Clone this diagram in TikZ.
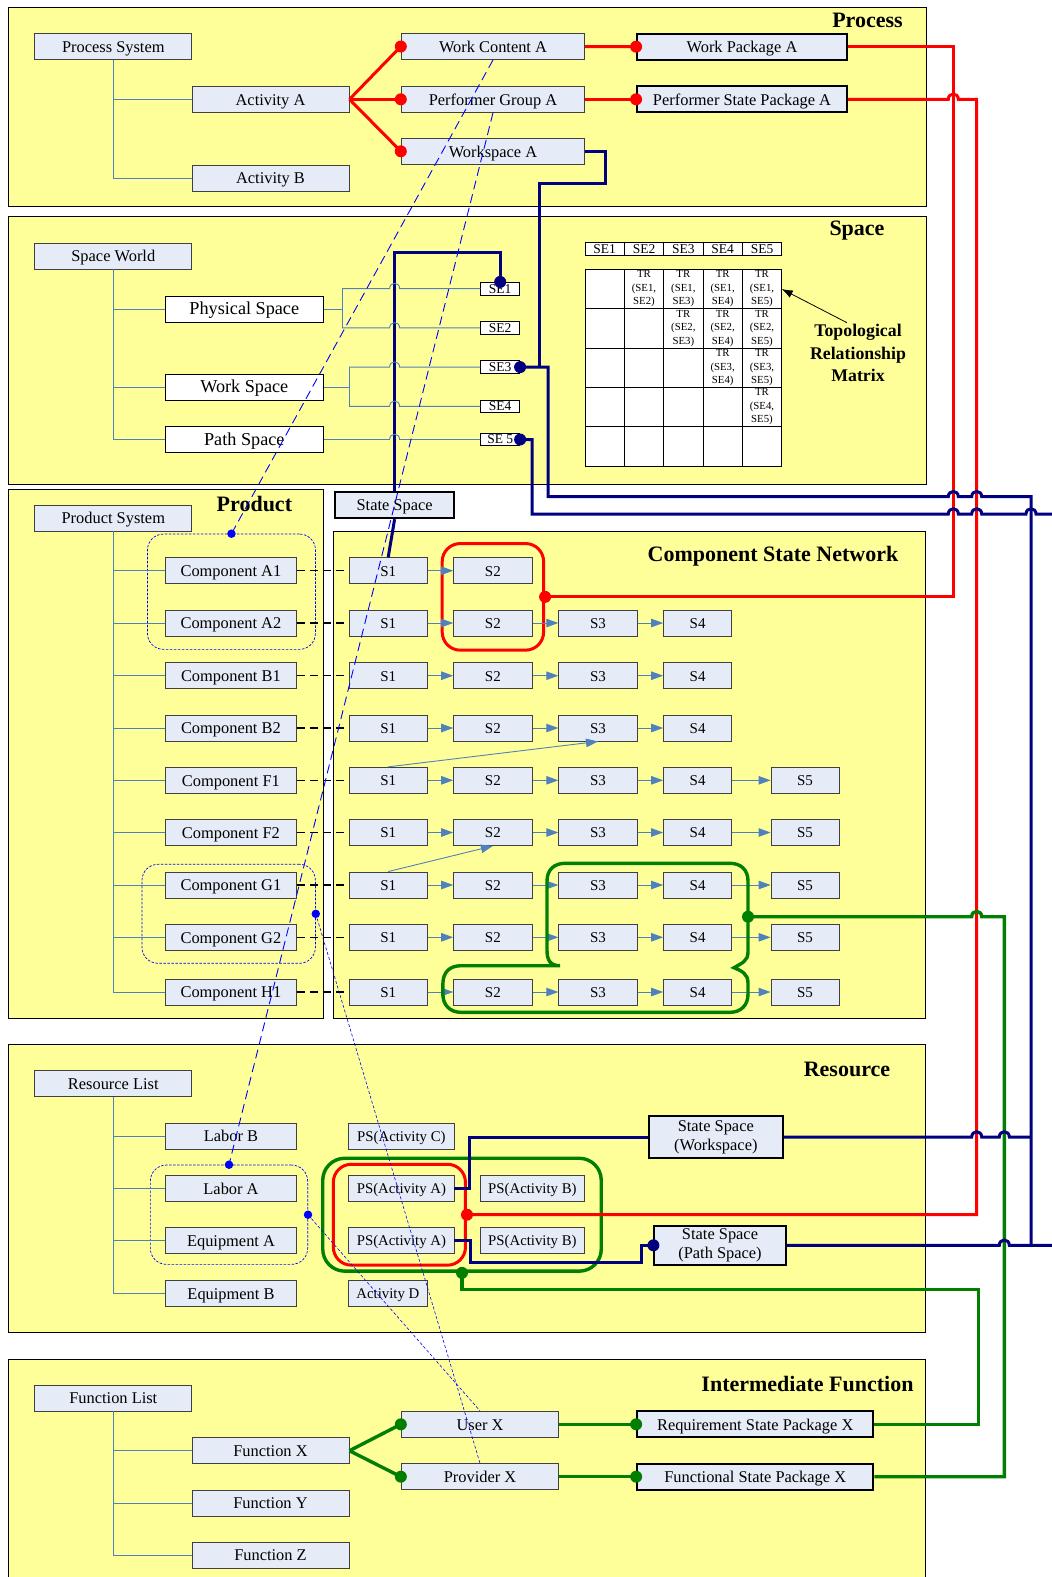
\documentclass[tikz,border=0pt]{standalone}
\usepackage{fontspec}
\setmainfont{Liberation Serif}
\usetikzlibrary{arrows.meta,positioning,fit,calc}
\definecolor{paneyellow}{HTML}{FFFF99}
\definecolor{boxblue}{HTML}{E5ECF7}
\definecolor{treeblue}{HTML}{4F81BD}
\definecolor{navyline}{HTML}{000080}
\definecolor{redline}{HTML}{FF0000}
\definecolor{greenline}{HTML}{007F00}
\definecolor{dashblue}{HTML}{0000FF}
\newcommand{\hopover}[2]{-- ({#1-5},#2) .. controls ({#1-5},{#2-7}) and ({#1+5},{#2-7}) .. ({#1+5},#2)}
\tikzset{
  panel/.style={draw=black, fill=paneyellow, line width=0.8pt},
  paneltitle/.style={font=\fontsize{22}{24}\selectfont\bfseries, inner sep=0pt},
  item/.style={rectangle, draw=black!75, fill=boxblue, line width=0.9pt, inner sep=0pt, minimum width=157, minimum height=26, font=\fontsize{16.4}{19}\selectfont, text height=11.8pt, text depth=0pt},
  spacebox/.style={item, fill=white, draw=black, minimum width=158, font=\fontsize{18.2}{20}\selectfont, text height=11pt},
  pkg/.style={item, draw=black, line width=1.8pt},
  pkgtwo/.style={rectangle, draw=black, fill=boxblue, line width=1.8pt, inner sep=0pt, align=center, font=\fontsize{16.4}{19}\selectfont},
  sbox/.style={item, font=\fontsize{15}{17}\selectfont, text height=10.6pt},
  psbox/.style={item, font=\fontsize{14.8}{17}\selectfont, text height=10pt},
  sebox/.style={rectangle, draw=black, fill=white, line width=0.8pt, inner sep=0pt, minimum width=39, minimum height=12.6, font=\fontsize{13.5}{14}\selectfont},
  mhead/.style={sebox, minimum width=39.34},
  mcell/.style={align=center, inner sep=0pt, font=\fontsize{10.8}{13.6}\selectfont},
  tree/.style={draw=treeblue, line width=0.9pt},
  flow/.style={draw=treeblue, line width=0.9pt, -{Triangle[length=12pt,width=8.5pt]}},
  compdash/.style={draw=black, line width=1.2pt, dash pattern=on 8pt off 5pt},
  redlink/.style={draw=redline, line width=3pt},
  greenlink/.style={draw=greenline, line width=3.4pt},
  navylink/.style={draw=navyline, line width=3pt},
  reddot/.style={circle, fill=redline, inner sep=0pt, minimum size=12},
  greendot/.style={circle, fill=greenline, inner sep=0pt, minimum size=12},
  navydot/.style={circle, fill=navyline, inner sep=0pt, minimum size=12},
  bluedot/.style={circle, fill=dashblue, inner sep=0pt, minimum size=8.5},
  bluegroup/.style={rectangle, draw=dashblue, line width=0.7pt, dash pattern=on 2.5pt off 1.5pt, rounded corners=16pt},
  redgroup/.style={rectangle, draw=redline, line width=3pt, rounded corners=18pt, inner sep=0pt},
  greengroup/.style={rectangle, draw=greenline, line width=3.4pt, rounded corners=22pt, inner sep=0pt},
  longdash/.style={draw=dashblue, line width=0.9pt, dash pattern=on 9pt off 5pt},
  finedash/.style={draw=dashblue, line width=0.6pt, dash pattern=on 3pt off 2pt}
}

\begin{document}
\begin{tikzpicture}[x=1pt, y=-1pt]
  \useasboundingbox (0,0) rectangle (1052,1577);
  \clip (0,0) rectangle (1052,1577);
  \fill[white] (0,0) rectangle (1052,1577);

  % panels
  \draw[panel] (8,7) rectangle (926,206);
  \draw[panel] (8,216.7) rectangle (926,484);
  \draw[panel] (8,489.3) rectangle (323.2,1018.3);
  \draw[panel] (333.2,531.7) rectangle (925.8,1018.3);
  \draw[panel] (8.7,1044.3) rectangle (925.7,1332.7);
  \draw[panel] (8.7,1359) rectangle (925.7,1600);
  \node[paneltitle] (tproc) at (867.5,20) {Process};
  \node[paneltitle] (tspace) at (857,231) {Space};
  \node[paneltitle] (tprod) at (254.4,504) {Product};
  \node[paneltitle] (tcsn) at (773,556) {Component State Network};
  \node[paneltitle] (tres) at (847,1069) {Resource};
  \node[paneltitle] (tfun) at (807.5,1384) {Intermediate Function};

  % process
  \node[item] (ps) at (113.3,46.7) {Process System};
  \node[item] (acta) at (270.5,99.3) {Activity A};
  \node[item] (actb) at (270.5,178) {Activity B};
  \node[item, minimum width=183.5] (wca) at (493,46.5) {Work Content A};
  \node[item, minimum width=183.5] (pga) at (493,99.3) {Performer Group A};
  \node[item, minimum width=183.5] (wsa) at (493,151.3) {Workspace A};
  \node[pkg, minimum width=210] (wpa) at (742,46.7) {Work Package A};
  \node[pkg, minimum width=210] (pspa) at (742,99.3) {Performer State Package A};

  % space
  \node[item] (sw) at (113.3,256) {Space World};
  \node[spacebox] (phys) at (244.3,309) {Physical Space};
  \node[spacebox] (wsp) at (244.3,387) {Work Space};
  \node[spacebox] (path) at (244.3,439.5) {Path Space};
  \node[sebox] (se1) at (500.2,288.6) {SE1};
  \node[sebox] (se2) at (500.2,327.9) {SE2};
  \node[sebox] (se3) at (500.2,367.1) {SE3};
  \node[sebox] (se4) at (500.2,406.3) {SE4};
  \node[sebox] (se5) at (500.2,439.5) {SE 5};
  \foreach \n [count=\i from 0] in {1,...,5}
    \node[mhead] (mh\n) at ({604.67+39.34*\i},249) {SE\n};
  \filldraw[fill=white, draw=black, line width=0.8pt] (585,269.3) rectangle (781.7,466);
  \foreach \i in {1,...,4} {
    \draw[line width=0.8pt] ({585+39.34*\i},269.3) -- ({585+39.34*\i},466);
    \draw[line width=0.8pt] (585,{269.3+39.34*\i}) -- (781.7,{269.3+39.34*\i});
  }
  \foreach \rw in {1,...,4} {
    \pgfmathtruncatemacro{\cs}{\rw+1}
    \foreach \cl in {\cs,...,5}
      \node[mcell] (tr\rw\cl) at ({585+39.34*(\cl-0.5)},{269.3+39.34*(\rw-0.5)}) {TR\\(SE\rw,\\SE\cl)};
  }
  \node[align=center, font=\fontsize{17.8}{22.5}\selectfont\bfseries] (trm) at (858,353) {Topological\\Relationship\\Matrix};
  \coordinate (trtip) at (781.7,289);
  \draw[line width=0.8pt, -{Latex[length=11pt,width=8pt]}] ($(trm.north)+(-11,2)$) -- (trtip);

  % product and component states
  \node[item] (prs) at (113.3,518) {Product System};
  \node[pkg, minimum width=118.6, minimum height=26.6] (ss) at (394.6,505) {State Space};
  \foreach \lab/\yy/\ns [count=\rw] in {A1/570.7/2, A2/623/4, B1/675.7/4, B2/728/4, F1/780.3/5, F2/832.5/5, G1/885/5, G2/937.3/5, H1/992/5} {
    \node[item, minimum width=131] (c\rw) at (230.9,\yy) {Component \lab};
    \foreach \st in {1,...,\ns} {
      \pgfmathsetmacro{\sx}{{388.2,492.9,598,697.6,805}[\st-1]}
      \pgfmathsetmacro{\sw}{\st>3 ? 68 : 78.5}
      \node[sbox, minimum width=\sw] (s\rw\st) at (\sx,\yy) {S\st};
    }
  }
  \node[bluegroup, minimum width=168, minimum height=115.3] (agrp) at (231.45,591.7) {};
  \node[bluegroup, minimum width=173.4, minimum height=99] (ggrp) at (228.7,913.8) {};

  % resource
  \node[item] (rl) at (113.3,1083.7) {Resource List};
  \node[item, minimum width=131.3] (lb) at (231,1136) {Labor B};
  \node[item, minimum width=131.3] (la) at (231,1188.7) {Labor A};
  \node[item, minimum width=131.3] (ea) at (231,1240.7) {Equipment A};
  \node[item, minimum width=131.3] (eb) at (231,1293.3) {Equipment B};
  \node[psbox, minimum width=105.2] (psc) at (401.4,1136) {PS(Activity C)};
  \node[psbox, minimum width=105.2] (psa1) at (401.4,1188.7) {PS(Activity A)};
  \node[psbox, minimum width=105.2] (psa2) at (401.4,1240.7) {PS(Activity A)};
  \node[psbox, minimum width=78.2] (actd) at (387.9,1293.3) {Activity D};
  \node[psbox, minimum width=104] (psb1) at (532.4,1188.7) {PS(Activity B)};
  \node[psbox, minimum width=104] (psb2) at (532.4,1240.7) {PS(Activity B)};
  \node[pkgtwo, minimum width=133.7, minimum height=41.6] (ssw) at (715.8,1137) {State Space\\(Workspace)};
  \node[pkgtwo, minimum width=131.4, minimum height=39.3] (ssp) at (720,1245.3) {State Space\\(Path Space)};
  \node[bluegroup, minimum width=157.3, minimum height=99.3] (lagrp) at (229,1214.7) {};
  \node[redgroup, fit=(psa1)(psa2), inner xsep=13, inner ysep=11, xshift=-2] (resred) {};
  \node[greengroup, fit=(psa1)(psb2), inner xsep=21, inner ysep=17, xshift=-4.6] (resgreen) {};
  \node[redgroup, fit=(s12)(s22), inner xsep=11, inner ysep=13.7] (csnred) {};

  % function
  \node[item] (fl) at (113.3,1398) {Function List};
  \node[item] (fx) at (270.5,1450.7) {Function X};
  \node[item] (fy) at (270.5,1503) {Function Y};
  \node[item] (fz) at (270.5,1555) {Function Z};
  \node[item, minimum width=157.4] (ux) at (480,1424.3) {User X};
  \node[item, minimum width=157.4] (px) at (480,1476.7) {Provider X};
  \node[pkg, minimum width=236.3] (rspx) at (755.2,1424.3) {Requirement State Package X};
  \node[pkg, minimum width=236.3] (fspx) at (755.2,1476.7) {Functional State Package X};

  % trees
  \draw[tree] (ps.south) |- (acta.west);
  \draw[tree] (ps.south) |- (actb.west);
  \draw[tree] (sw.south) |- (phys.west);
  \draw[tree] (sw.south) |- (wsp.west);
  \draw[tree] (sw.south) |- (path.west);
  \foreach \rw in {1,...,9}
    \draw[tree] (prs.south) |- (c\rw.west);
  \foreach \nm in {lb,la,ea,eb}
    \draw[tree] (rl.south) |- (\nm.west);
  \foreach \nm in {fx,fy,fz}
    \draw[tree] (fl.south) |- (\nm.west);

  % state flows
  \foreach \ns [count=\rw] in {2,4,4,4,5,5,5,5,5} {
    \draw[compdash] (c\rw.east) -- (s\rw1.west);
    \foreach \st in {2,...,\ns} {
      \pgfmathtruncatemacro{\pv}{\st-1}
      \draw[flow] (s\rw\pv.east) -- (s\rw\st.west);
    }
  }
  \draw[flow] (s51.north) -- (s43.south);
  \draw[flow] (s71.north) -- (s62.south);

  % red links
  \draw[redlink] (acta.east) -- (wca.west);
  \draw[redlink] (acta.east) -- (pga.west);
  \draw[redlink] (acta.east) -- (wsa.west);
  \draw[redlink] (wca.east) -- (wpa.west);
  \draw[redlink] (pga.east) -- (pspa.west);
  \draw[redlink] (wpa.east) -- (953.3,46.7) |- (csnred.east);
  \draw[redlink] (pspa.east) \hopover{953.3}{99.3} -- (976.7,99.3) |- (resred.east);

  % green links
  \coordinate (gbr) at (748,916.7);
  \draw[greenlink] (560,965.7)
    .. controls (550,965.7) and (547,960) .. (547,950)
    -- (547,881) .. controls (547,870) and (554,863.3) .. (565,863.3)
    -- (730,863.3) .. controls (741,863.3) and (748,870) .. (748,881)
    -- (748,952) .. controls (748,961) and (742,963) .. (734,967.7)
    .. controls (742,971) and (748,974) .. (748,983)
    -- (748,994.3) .. controls (748,1005) and (741,1012.3) .. (730,1012.3)
    -- (461,1012.3) .. controls (450,1012.3) and (442.9,1005) .. (442.9,994.3)
    -- (442.9,983.7) .. controls (442.9,972) and (450,965.7) .. (461,965.7)
    -- cycle;
  \draw[greenlink] (gbr) \hopover{976.7}{916.7} -- (1004.3,916.7) |- (fspx.east);
  \draw[greenlink] (resgreen.south) |- (978.3,1289.3) |- (rspx.east);
  \draw[greenlink] (fx.east) -- (ux.west);
  \draw[greenlink] (fx.east) -- (px.west);
  \draw[greenlink] (ux.east) -- (rspx.west);
  \draw[greenlink] (px.east) -- (fspx.west);

  % navy links
  \draw[navylink] (wsa.east) -- (605,151.3) -- (605,183.3) -- (539.7,183.3) -- (539.7,367.1);
  \draw[navylink] (se3.east) -- (548,367.1) -- (548,496.7) \hopover{953.3}{496.7} \hopover{976.7}{496.7} -- (1031,496.7) -- (1031,1245.3);
  \draw[navylink] (se5.east) -- (532,439.5) -- (532,514) \hopover{953.3}{514} \hopover{976.7}{514} \hopover{1031}{514} -- (1060,514);
  \draw[navylink] (ss.north) -- (394.6,252.7) -| (se1.north);
  \draw[navylink] (ss.south) -- (s11.north);
  \draw[navylink] (psa1.east) -- (469.7,1188.7) |- (ssw.west);
  \draw[navylink] (ssw.east) \hopover{976.7}{1137} \hopover{1004.3}{1137} -- (1031,1137);
  \draw[navylink] (psa2.east) -- (470.5,1240.7) -- (470.5,1262.3) -| (641.7,1245.3) -- (ssp.west);
  \draw[navylink] (ssp.east) \hopover{1004.3}{1245.3} -- (1060,1245.3);

  % space element links
  \draw[tree] (phys.east) -- (342,309);
  \draw[tree] (342,288.6) -- (342,327.9);
  \draw[tree] (342,288.6) \hopover{394.6}{288.6} -- (se1.west);
  \draw[tree] (342,327.9) \hopover{394.6}{327.9} -- (se2.west);
  \draw[tree] (wsp.east) -- (349,387);
  \draw[tree] (349,367.1) -- (349,406.3);
  \draw[tree] (349,367.1) \hopover{394.6}{367.1} -- (se3.west);
  \draw[tree] (349,406.3) \hopover{394.6}{406.3} -- (se4.west);
  \draw[tree] (path.east) \hopover{394.6}{439.5} -- (se5.west);

  % dots
  \foreach \nm/\an [count=\k] in {wca/west, pga/west, wsa/west, wpa/west, pspa/west, csnred/east, resred/east}
    \node[reddot] (rd\k) at (\nm.\an) {};
  \foreach \nm/\an [count=\k] in {ux/west, px/west, rspx/west, fspx/west, gbr/center, resgreen/south}
    \node[greendot] (gd\k) at (\nm.\an) {};
  \foreach \nm/\an [count=\k] in {se1/north, se3/east, se5/east, ssp/west}
    \node[navydot] (nd\k) at (\nm.\an) {};

  % cross links
  \draw[longdash] (wca.south) -- (agrp.north);
  \draw[longdash] (pga.south) -- (lagrp.north);
  \draw[finedash] (ggrp.east) -- (px.north);
  \draw[finedash] (lagrp.east) -- (ux.north);
  \foreach \nm/\an [count=\k] in {agrp/north, ggrp/east, lagrp/north, lagrp/east}
    \node[bluedot] (bd\k) at (\nm.\an) {};
\end{tikzpicture}
\end{document}
